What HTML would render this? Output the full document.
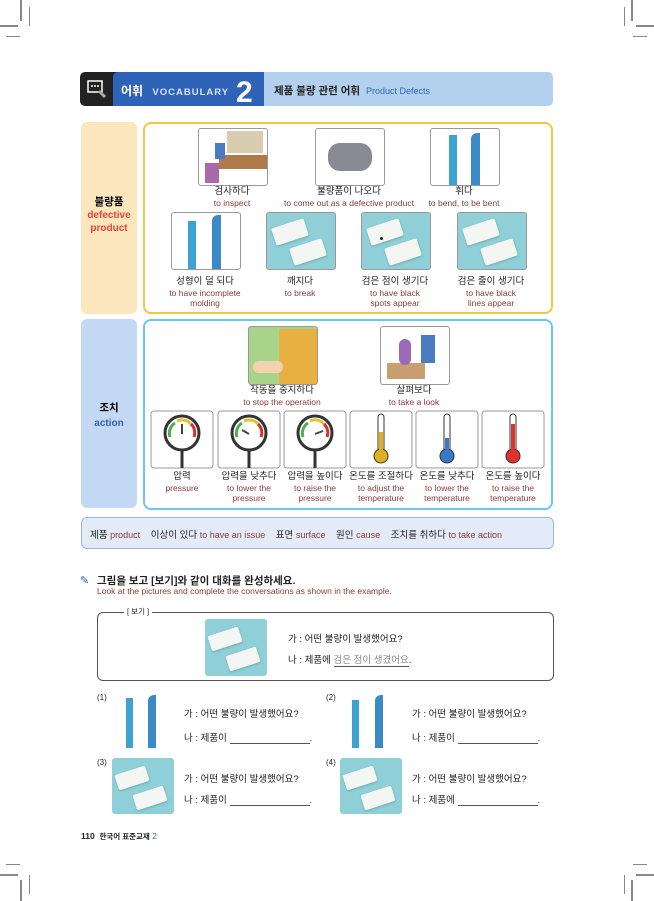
<!DOCTYPE html>
<html><head><meta charset="utf-8"><style>
body{margin:0;width:654px;height:901px;position:relative;background:#fff;font-family:"Liberation Sans","Noto Sans CJK KR",sans-serif;overflow:hidden}
.a{position:absolute}
.k{position:absolute;font-size:9.5px;color:#222;text-align:center;line-height:10.5px}
.k i{font-style:normal;color:#8a3b3b;font-size:8.5px;display:block}
.img{position:absolute;border:1px solid #999;border-radius:3px;background:#fff;overflow:hidden}
.teal{background:#8fd0d8}
.blk{position:absolute;background:#f4f6f4;border-radius:2px;box-shadow:0 1px 2px #6aa}
.cm{position:absolute;background:#888}
.t{position:absolute;font-size:9.5px;color:#222;white-space:nowrap}
.u{display:inline-block;width:80px;border-bottom:1px solid #555;height:10px;vertical-align:bottom}
</style></head><body>
<!-- crop marks -->
<div class="cm" style="left:20px;top:0;width:2px;height:21px"></div>
<div class="cm" style="left:29px;top:7px;width:1px;height:19px"></div>
<div class="cm" style="left:0;top:25px;width:18px;height:2px"></div>
<div class="cm" style="left:6px;top:36px;width:14px;height:1px"></div>
<div class="cm" style="left:631px;top:0;width:2px;height:21px"></div>
<div class="cm" style="left:624px;top:7px;width:1px;height:19px"></div>
<div class="cm" style="left:636px;top:25px;width:18px;height:2px"></div>
<div class="cm" style="left:633px;top:36px;width:14px;height:1px"></div>
<div class="cm" style="left:20px;top:880px;width:2px;height:21px"></div>
<div class="cm" style="left:29px;top:875px;width:1px;height:19px"></div>
<div class="cm" style="left:0;top:874px;width:18px;height:2px"></div>
<div class="cm" style="left:6px;top:864px;width:14px;height:1px"></div>
<div class="cm" style="left:631px;top:880px;width:2px;height:21px"></div>
<div class="cm" style="left:624px;top:875px;width:1px;height:19px"></div>
<div class="cm" style="left:636px;top:874px;width:18px;height:2px"></div>
<div class="cm" style="left:633px;top:864px;width:14px;height:1px"></div>

<!-- header -->
<div class="a" style="left:80px;top:72px;width:40px;height:34px;background:#222;border-radius:5px 0 0 5px"></div>
<svg class="a" style="left:86px;top:78px" width="22" height="22"><rect x="2" y="3" width="14" height="11" fill="none" stroke="#fff" stroke-width="1.5"/><circle cx="6" cy="8" r="1" fill="#fff"/><circle cx="9" cy="8" r="1" fill="#fff"/><circle cx="12" cy="8" r="1" fill="#fff"/><line x1="13" y1="13" x2="19" y2="19" stroke="#aaa" stroke-width="3"/></svg>
<div class="a" style="left:113px;top:72px;width:158px;height:34px;background:#2f63b8;border-radius:5px 5px 0 0"></div>
<div class="a" style="left:121px;top:82px;color:#fff;font-size:12px;font-weight:bold">어휘 <span style="font-size:9.5px;letter-spacing:1px;color:#d8e4f8;margin-left:6px">VOCABULARY</span></div>
<div class="a" style="left:236px;top:78px;color:#fff;font-size:30px;font-weight:bold;line-height:30px">2</div>
<div class="a" style="left:264px;top:72px;width:289px;height:34px;background:#b3d1ef;border-radius:0 5px 5px 0"></div>
<div class="a" style="left:274px;top:83px;font-size:10.5px;font-weight:bold;color:#222">제품 불량 관련 어휘 <span style="font-weight:normal;color:#2f63b8;font-size:9px;margin-left:3px">Product Defects</span></div>

<!-- defective -->
<div class="a" style="left:81px;top:122px;width:56px;height:192px;background:#fbe6bd;border-radius:6px"></div>
<div class="a" style="left:81px;top:196px;width:56px;text-align:center;font-size:10.5px;font-weight:bold;line-height:13px">불량품<br><span style="color:#e5453b;font-size:10px">defective<br>product</span></div>
<div class="a" style="left:143px;top:122px;width:406px;height:188px;border:2px solid #f5c542;border-radius:8px"></div>

<div class="img" style="left:198px;top:128px;width:68px;height:56px"><div class="a" style="left:20px;top:26px;width:48px;height:14px;background:#b07a4a"></div><div class="a" style="left:28px;top:2px;width:36px;height:22px;background:#d8cdb0"></div><div class="a" style="left:6px;top:34px;width:14px;height:20px;background:#a86aa8"></div><div class="a" style="left:16px;top:14px;width:10px;height:16px;background:#4a7ac0"></div></div>
<div class="img" style="left:315px;top:128px;width:68px;height:56px"><div class="a" style="left:12px;top:14px;width:44px;height:28px;background:#8a8a94;border-radius:12px"></div></div>
<div class="img" style="left:430px;top:128px;width:68px;height:56px"><div class="a" style="left:18px;top:6px;width:8px;height:50px;background:#3fa3cf"></div><div class="a" style="left:40px;top:4px;width:9px;height:52px;background:#3b8ac8;border-radius:6px 0 0 0"></div></div>
<div class="k" style="left:180px;top:187px;width:104px">검사하다<i>to inspect</i></div>
<div class="k" style="left:264px;top:187px;width:170px">불량품이 나오다<i>to come out as a defective product</i></div>
<div class="k" style="left:409px;top:187px;width:110px">휘다<i>to bend, to be bent</i></div>

<div class="img" style="left:171px;top:212px;width:68px;height:56px"><div class="a" style="left:16px;top:8px;width:8px;height:48px;background:#3fa3cf"></div><div class="a" style="left:40px;top:2px;width:9px;height:54px;background:#3b8ac8;border-radius:6px 0 0 0"></div></div>
<div class="img teal" style="left:266px;top:212px;width:68px;height:56px"><div class="blk" style="left:6px;top:10px;width:34px;height:18px;transform:rotate(-18deg)"></div><div class="blk" style="left:24px;top:30px;width:34px;height:18px;transform:rotate(-18deg)"></div></div>
<div class="img teal" style="left:361px;top:212px;width:68px;height:56px"><div class="blk" style="left:6px;top:10px;width:34px;height:18px;transform:rotate(-18deg)"></div><div class="blk" style="left:24px;top:30px;width:34px;height:18px;transform:rotate(-18deg)"></div><div class="a" style="left:18px;top:24px;width:3px;height:3px;background:#222;border-radius:2px"></div></div>
<div class="img teal" style="left:457px;top:212px;width:68px;height:56px"><div class="blk" style="left:6px;top:10px;width:34px;height:18px;transform:rotate(-18deg)"></div><div class="blk" style="left:24px;top:30px;width:34px;height:18px;transform:rotate(-18deg)"></div></div>
<div class="k" style="left:155px;top:277px;width:100px">성형이 덜 되다<i>to have incomplete<br>molding</i></div>
<div class="k" style="left:250px;top:277px;width:100px">깨지다<i>to break</i></div>
<div class="k" style="left:345px;top:277px;width:100px">검은 점이 생기다<i>to have black<br>spots appear</i></div>
<div class="k" style="left:441px;top:277px;width:100px">검은 줄이 생기다<i>to have black<br>lines appear</i></div>

<!-- action -->
<div class="a" style="left:81px;top:319px;width:56px;height:189px;background:#c3d9f3;border-radius:6px"></div>
<div class="a" style="left:81px;top:401px;width:56px;text-align:center;font-size:10.5px;font-weight:bold;line-height:15px">조치<br><span style="color:#2f63b8;font-size:10px">action</span></div>
<div class="a" style="left:143px;top:319px;width:406px;height:187px;border:2px solid #6cc7ef;border-radius:8px"></div>
<div class="img" style="left:248px;top:326px;width:68px;height:57px;background:#a8d48a"><div class="a" style="left:30px;top:2px;width:38px;height:55px;background:#e8b040"></div><div class="a" style="left:4px;top:34px;width:30px;height:12px;background:#f3d2b0;border-radius:6px"></div></div>
<div class="img" style="left:380px;top:326px;width:68px;height:57px"><div class="a" style="left:6px;top:36px;width:38px;height:16px;background:#c8a070"></div><div class="a" style="left:18px;top:12px;width:12px;height:26px;background:#9a6ab8;border-radius:6px"></div><div class="a" style="left:40px;top:8px;width:14px;height:28px;background:#4a7ac0"></div></div>
<div class="k" style="left:222px;top:386px;width:120px">작동을 중지하다<i>to stop the operation</i></div>
<div class="k" style="left:364px;top:386px;width:100px">살펴보다<i>to take a look</i></div>

<svg class="a" style="left:0;top:0" width="654" height="901">
<g fill="#fff" stroke="#999"><rect x="151" y="411" width="62" height="57" rx="3"/><rect x="218" y="411" width="62" height="57" rx="3"/><rect x="284" y="411" width="62" height="57" rx="3"/><rect x="350" y="411" width="62" height="57" rx="3"/><rect x="416" y="411" width="62" height="57" rx="3"/><rect x="482" y="411" width="62" height="57" rx="3"/></g>
<g stroke="#333" stroke-width="3" fill="#fff"><line x1="182" y1="450" x2="182" y2="468"/><line x1="249" y1="450" x2="249" y2="468"/><line x1="315" y1="450" x2="315" y2="468"/><circle cx="182" cy="433" r="17"/><circle cx="249" cy="433" r="17"/><circle cx="315" cy="433" r="17"/></g>
<g fill="none" stroke-width="3"><path d="M170 437 A12 12 0 0 1 175 423" stroke="#4caf50"/><path d="M177 421 A12 12 0 0 1 191 424" stroke="#e8c030"/><path d="M191 424 A12 12 0 0 1 194 437" stroke="#d83030"/>
<path d="M237 437 A12 12 0 0 1 242 423" stroke="#4caf50"/><path d="M244 421 A12 12 0 0 1 258 424" stroke="#e8c030"/><path d="M258 424 A12 12 0 0 1 261 437" stroke="#d83030"/>
<path d="M303 437 A12 12 0 0 1 308 423" stroke="#4caf50"/><path d="M310 421 A12 12 0 0 1 324 424" stroke="#e8c030"/><path d="M324 424 A12 12 0 0 1 327 437" stroke="#d83030"/></g>
<g stroke="#444" stroke-width="2"><line x1="182" y1="434" x2="182" y2="424"/><line x1="249" y1="434" x2="242" y2="430"/><line x1="315" y1="434" x2="323" y2="431"/></g>
<g stroke="#333" stroke-width="1"><rect x="378" y="414" width="6" height="38" rx="3" fill="#fff"/><rect x="444" y="414" width="6" height="38" rx="3" fill="#fff"/><rect x="510" y="414" width="6" height="38" rx="3" fill="#fff"/>
<circle cx="381" cy="456" r="7" fill="#e0b020"/><circle cx="447" cy="456" r="7" fill="#3a78c8"/><circle cx="513" cy="456" r="7" fill="#e03030"/></g>
<rect x="379" y="432" width="4" height="20" fill="#e0b020"/><rect x="445" y="438" width="4" height="14" fill="#3a78c8"/><rect x="511" y="424" width="4" height="28" fill="#e03030"/>
</svg>
<div class="k" style="left:141px;top:472px;width:82px">압력<i>pressure</i></div>
<div class="k" style="left:208px;top:472px;width:82px">압력을 낮추다<i>to lower the<br>pressure</i></div>
<div class="k" style="left:274px;top:472px;width:82px">압력을 높이다<i>to raise the<br>pressure</i></div>
<div class="k" style="left:339px;top:472px;width:84px">온도를 조절하다<i>to adjust the<br>temperature</i></div>
<div class="k" style="left:406px;top:472px;width:82px">온도를 낮추다<i>to lower the<br>temperature</i></div>
<div class="k" style="left:472px;top:472px;width:82px">온도를 높이다<i>to raise the<br>temperature</i></div>

<!-- vocab bar -->
<div class="a" style="left:81px;top:517px;width:471px;height:30px;background:#e4ebf8;border:1px solid #9fb5e0;border-radius:6px"></div>
<div class="t" style="left:90px;top:527px">제품 <span style="color:#8a3b3b;font-size:9px">product</span>&nbsp;&nbsp;&nbsp; 이상이 있다 <span style="color:#8a3b3b;font-size:9px">to have an issue</span>&nbsp;&nbsp;&nbsp; 표면 <span style="color:#8a3b3b;font-size:9px">surface</span>&nbsp;&nbsp;&nbsp; 원인 <span style="color:#8a3b3b;font-size:9px">cause</span>&nbsp;&nbsp;&nbsp; 조치를 취하다 <span style="color:#8a3b3b;font-size:9px">to take action</span></div>

<!-- instruction -->
<div class="a" style="left:80px;top:574px;color:#2f63b8;font-size:11px">✎</div>
<div class="t" style="left:97px;top:573px;font-size:10.5px;font-weight:bold">그림을 보고 [보기]와 같이 대화를 완성하세요.</div>
<div class="t" style="left:97px;top:586px;font-size:8.5px;color:#8a3b3b">Look at the pictures and complete the conversations as shown in the example.</div>

<div class="a" style="left:97px;top:612px;width:455px;height:67px;border:1px solid #555;border-radius:6px"></div>
<div class="t" style="left:124px;top:606px;font-size:7.5px;background:#fff;padding:0 3px">[ 보기 ]</div>
<div class="img teal" style="left:205px;top:619px;width:62px;height:57px;border:none"><div class="blk" style="left:4px;top:12px;width:32px;height:16px;transform:rotate(-18deg)"></div><div class="blk" style="left:22px;top:32px;width:32px;height:16px;transform:rotate(-18deg)"></div></div>
<div class="t" style="left:288px;top:631px">가 : 어떤 불량이 발생했어요?</div>
<div class="t" style="left:288px;top:652px">나 : 제품에 <span style="color:#888;border-bottom:1px solid #555">검은 점이 생겼어요</span>.</div>

<!-- exercises -->
<div class="t" style="left:97px;top:693px;font-size:8px">(1)</div>
<div class="a" style="left:126px;top:698px;width:7px;height:50px;background:#3fa3cf"></div><div class="a" style="left:148px;top:695px;width:8px;height:53px;background:#3b8ac8;border-radius:6px 0 0 0"></div>
<div class="t" style="left:184px;top:706px">가 : 어떤 불량이 발생했어요?</div>
<div class="t" style="left:184px;top:730px">나 : 제품이 <span class="u"></span>.</div>
<div class="t" style="left:326px;top:693px;font-size:8px">(2)</div>
<div class="a" style="left:352px;top:700px;width:7px;height:48px;background:#3fa3cf"></div><div class="a" style="left:375px;top:695px;width:8px;height:53px;background:#3b8ac8;border-radius:6px 0 0 0"></div>
<div class="t" style="left:412px;top:706px">가 : 어떤 불량이 발생했어요?</div>
<div class="t" style="left:412px;top:730px">나 : 제품이 <span class="u"></span>.</div>
<div class="t" style="left:97px;top:758px;font-size:8px">(3)</div>
<div class="img teal" style="left:112px;top:758px;width:62px;height:56px;border:none"><div class="blk" style="left:4px;top:12px;width:32px;height:16px;transform:rotate(-18deg)"></div><div class="blk" style="left:22px;top:32px;width:32px;height:16px;transform:rotate(-18deg)"></div></div>
<div class="t" style="left:184px;top:771px">가 : 어떤 불량이 발생했어요?</div>
<div class="t" style="left:184px;top:792px">나 : 제품이 <span class="u"></span>.</div>
<div class="t" style="left:326px;top:758px;font-size:8px">(4)</div>
<div class="img teal" style="left:340px;top:758px;width:62px;height:56px;border:none"><div class="blk" style="left:4px;top:12px;width:32px;height:16px;transform:rotate(-18deg)"></div><div class="blk" style="left:22px;top:32px;width:32px;height:16px;transform:rotate(-18deg)"></div></div>
<div class="t" style="left:412px;top:771px">가 : 어떤 불량이 발생했어요?</div>
<div class="t" style="left:412px;top:792px">나 : 제품에 <span class="u"></span>.</div>

<div class="t" style="left:81px;top:831px;font-size:8.5px;font-weight:bold">110&nbsp; <span style="font-size:7.5px">한국어 표준교재</span> <span style="color:#2f63b8;font-weight:normal">2</span></div>
</body></html>
